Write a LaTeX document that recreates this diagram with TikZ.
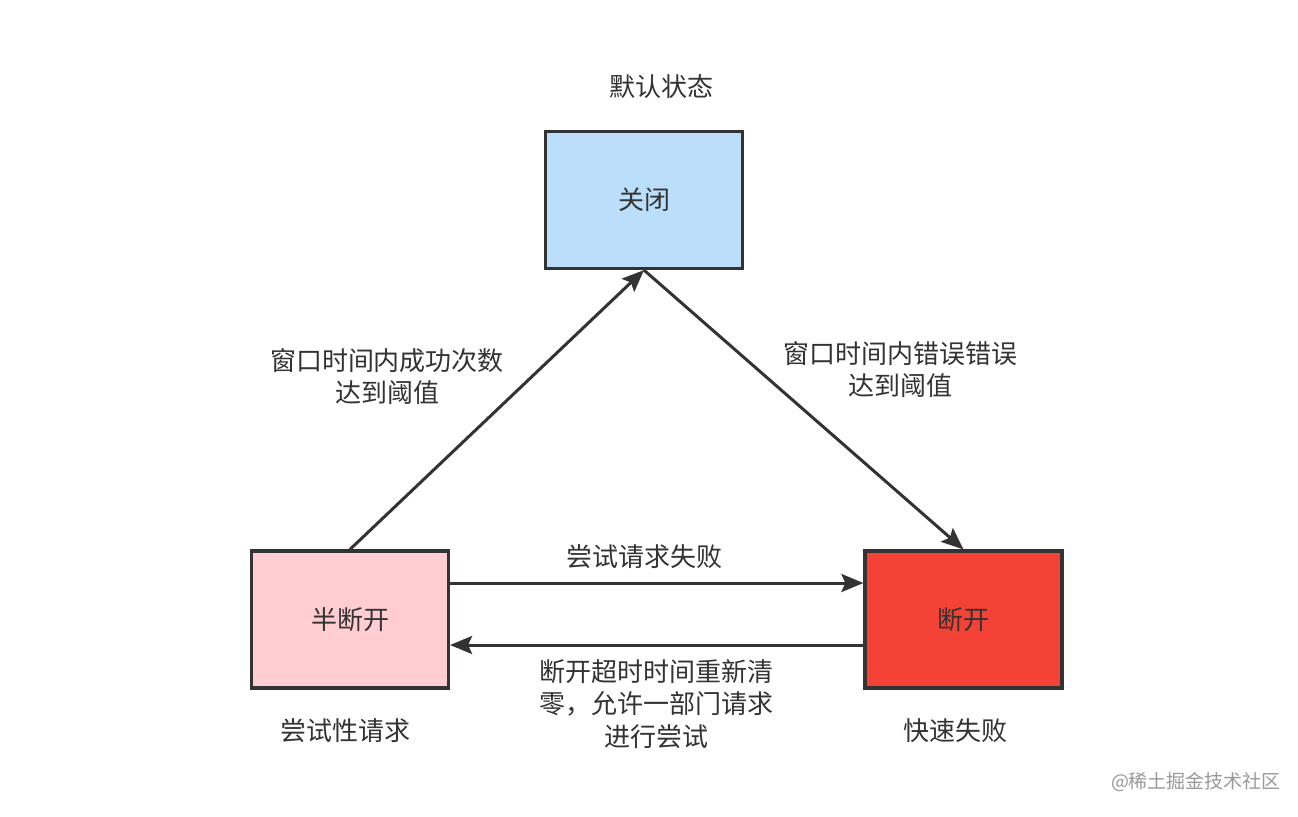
\documentclass[tikz,border=0pt]{standalone}
\usepackage{fontspec}
\setmainfont{Noto Sans CJK SC}
\usetikzlibrary{arrows.meta, positioning, calc}

\definecolor{linegray}{HTML}{333333}
\definecolor{textgray}{HTML}{333333}
\definecolor{closedblue}{HTML}{BBDEFB}
\definecolor{halfpink}{HTML}{FFCDD2}
\definecolor{openred}{HTML}{F44336}

\begin{document}
\begin{tikzpicture}[
        x=0.5pt, y=-0.5pt,
        % --- Styles ---
        state/.style={rectangle, draw=linegray, line width=1.6pt, minimum width=98.5pt, minimum height=68.5pt, align=center, text=textgray, font=\fontsize{13pt}{16pt}\selectfont},
        note/.style={align=center, text=textgray, font=\fontsize{13pt}{16pt}\selectfont},
        watermark/.style={text=black!40, font=\fontsize{9.5pt}{11pt}\selectfont},
        % --- Line Styles ---
        line/.style={draw=linegray, line width=1.5pt, -{Stealth[length=11pt, width=9pt, inset=2pt]}}
    ]
        \useasboundingbox[fill=white] (0,0) rectangle (1298,816);

        % --- States ---
        \node[state, fill=closedblue] (closed) at (644,200) {关闭};
        \node[state, fill=halfpink] (halfopen) at (350,619.5) {半断开};
        \node[state, fill=openred] (open) at (963.5,619.5) {断开};

        % --- State Captions ---
        \node[note] (closedcap) at (661,87) {默认状态};
        \node[note] (halfcap) at (345,731) {尝试性请求};
        \node[note] (opencap) at (955,731) {快速失败};

        % --- Transitions ---
        \draw[line] (halfopen.north) -- (closed.south);
        \draw[line] (closed.south) -- (open.north);
        \draw[line] ($(halfopen.east)+(0,-36.5)$) -- node[note, above=3pt, pos=0.47] (failnote) {尝试请求失败} ($(open.west)+(0,-36.5)$);
        \draw[line] ($(open.west)+(0,25.5)$) -- node[note, below=3pt, font=\fontsize{13pt}{16.3pt}\selectfont] (resetnote) {断开超时时间重新清\\零，允许一部门请求\\进行尝试} ($(halfopen.east)+(0,25.5)$);

        % --- Threshold Notes ---
        \node[note] (succnote) at (387,377) {窗口时间内成功次数\\达到阈值};
        \node[note] (errnote) at (900,370) {窗口时间内错误错误\\达到阈值};

        % --- Watermark ---
        \node[watermark] (wm) at (1196,782) {@稀土掘金技术社区};
    \end{tikzpicture}
\end{document}
